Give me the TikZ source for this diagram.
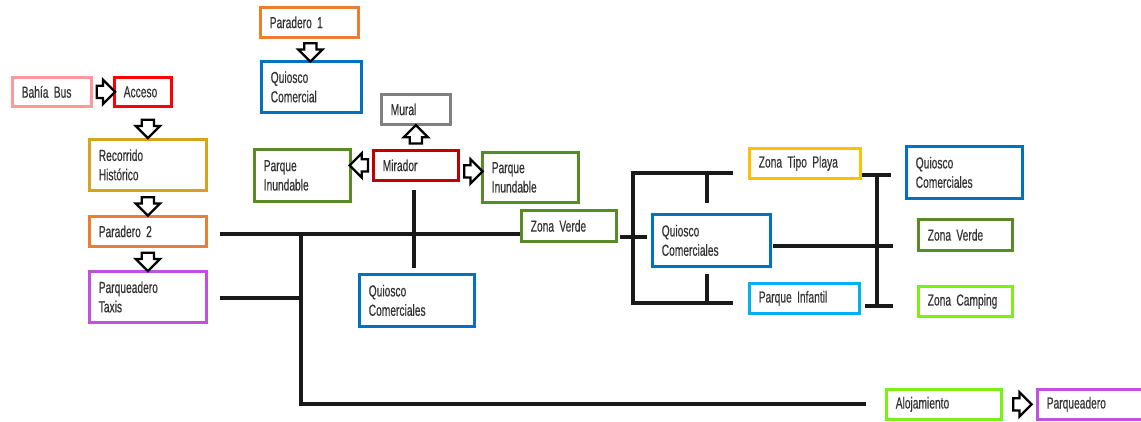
\documentclass[tikz,border=0pt]{standalone}
\usepackage{fontspec}
\setmainfont{Liberation Sans}[FakeStretch=0.64,WordSpace=0.7,FakeBold=0.4]
\usetikzlibrary{shapes.arrows,calc}
\definecolor{corange}{RGB}{237,125,49}
\definecolor{cblue}{RGB}{0,112,192}
\definecolor{cpink}{RGB}{255,153,153}
\definecolor{cred}{RGB}{255,0,0}
\definecolor{cgold}{RGB}{214,163,30}
\definecolor{cpurple}{RGB}{192,80,224}
\definecolor{cgreen}{RGB}{88,138,40}
\definecolor{cgray}{RGB}{128,128,128}
\definecolor{cdred}{RGB}{192,0,0}
\definecolor{cyellow}{RGB}{255,192,0}
\definecolor{clblue}{RGB}{0,176,240}
\definecolor{clime}{RGB}{124,240,20}
\newcommand\bx[7]{%
  \pgfmathsetmacro\bxw{(#5-#3)*0.75}%
  \pgfmathsetmacro\bxh{(#6-#4)*0.75}%
  \pgfmathsetmacro\bxt{(#5-#3)*0.75-14}%
  \node[box, draw=#2, minimum width=\bxw pt, minimum height=\bxh pt, text width=\bxt pt, anchor=north west] (#1) at (#3,#4) {#7};}
\begin{document}
\begin{tikzpicture}[x=0.75pt,y=-0.75pt,
  box/.style={rectangle, line width=2.1pt, fill=white, inner xsep=6pt, inner ysep=2pt, align=left, text=black!80, font=\fontsize{12pt}{14.5pt}\selectfont},
  conn/.style={line width=2.4pt, black!90},
  blk/.style={single arrow, draw=black, fill=white, line width=1.7pt, minimum height=13.5pt, minimum width=16.5pt, single arrow head extend=4.5pt, inner sep=3.75pt}]
\useasboundingbox (0,0) rectangle (1141,421);

\bx{par1}{corange}{259}{6}{357}{36}{Paradero 1}
\bx{qc1}{cblue}{260}{60}{360}{111}{Quiosco\\Comercial}
\bx{bahia}{cpink}{11}{76}{90}{105}{Bahía Bus}
\bx{acceso}{cred}{113}{76}{170}{105}{Acceso}
\bx{rec}{cgold}{88}{138}{205}{189}{Recorrido\\Histórico}
\bx{par2}{corange}{88}{215}{205}{245}{Paradero 2}
\bx{taxis}{cpurple}{88}{270}{205}{321}{Parqueadero\\Taxis}
\bx{pil}{cgreen}{253}{148}{349}{200}{Parque\\Inundable}
\bx{mural}{cgray}{380}{93}{449}{123}{Mural}
\bx{mirador}{cdred}{372}{149}{457}{179}{Mirador}
\bx{pir}{cgreen}{481}{151}{577}{201}{Parque\\Inundable}
\bx{zv1}{cgreen}{520}{209}{615}{240}{Zona Verde}
\bx{qcb}{cblue}{358}{273}{473}{325}{Quiosco\\Comerciales}
\bx{qcc}{cblue}{651}{213}{769}{265}{Quiosco\\Comerciales}
\bx{playa}{cyellow}{748}{147}{859}{177}{Zona Tipo Playa}
\bx{infantil}{clblue}{748}{282}{858}{312}{Parque Infantil}
\bx{qcr}{cblue}{905}{145}{1021}{197}{Quiosco\\Comerciales}
\bx{zv2}{cgreen}{917}{218}{1011}{249}{Zona Verde}
\bx{camping}{clime}{917}{285}{1011}{315}{Zona Camping}
\bx{aloj}{clime}{885}{388}{1000}{418}{Alojamiento}
\bx{parq}{cpurple}{1036}{388}{1144}{418}{Parqueadero}

% block arrows
\node[blk, shape border rotate=270] (ar1) at ($(par1.south)!0.5!(qc1.north)$) {};
\node[blk] (ar2) at ($(bahia.east)!0.5!(acceso.west)$) {};
\node[blk, shape border rotate=270] (ar3) at ($(acceso.south -| rec.north)!0.6!(rec.north)$) {};
\node[blk, shape border rotate=270] (ar4) at ($(rec.south)!0.5!(par2.north)$) {};
\node[blk, shape border rotate=270] (ar5) at ($(par2.south)!0.5!(taxis.north)$) {};
\node[blk, shape border rotate=90] (ar6) at ($(mirador.north)!0.5!(mural.south)$) {};
\node[blk, shape border rotate=180] (ar7) at ($(mirador.west)!0.5!(pil.east |- mirador.west)$) {};
\node[blk] (ar8) at ($(mirador.east)!0.5!(pir.west)$) {};
\node[blk] (ar9) at ($(aloj.east)!0.5!(parq.west)$) {};

% connector lines
\coordinate (j1) at (220,234);
\coordinate (j2) at (301,234);
\coordinate (j3) at (220,298);
\coordinate (j4) at (301,298);
\coordinate (j5) at (301,404);
\coordinate (j6) at (866,404);
\draw[conn] (j1) -- (zv1.west |- j1);
\draw[conn] (j3) -- (j4);
\draw[conn, line join=miter] (j2) -- (j5) -- (j6);
\coordinate (m1) at (414,190);
\coordinate (m2) at (414,268);
\draw[conn] (m1) -- (m2);
\coordinate (z1) at (620,237);
\coordinate (z2) at (647,237);
\draw[conn] (z1) -- (z2);
\coordinate (b1) at (733,173);
\coordinate (b2) at (633,173);
\coordinate (b3) at (633,303);
\coordinate (b4) at (733,303);
\draw[conn, line join=miter] (b1) -- (b2) -- (b3) -- (b4);
\coordinate (t1) at (707,173);
\coordinate (t2) at (707,203);
\coordinate (t3) at (707,274);
\coordinate (t4) at (707,303);
\draw[conn] (t1) -- (t2);
\draw[conn] (t3) -- (t4);
\coordinate (q1) at (773,246);
\coordinate (q2) at (893,246);
\draw[conn] (q1) -- (q2);
\coordinate (r1) at (862,175);
\coordinate (r2) at (891,175);
\coordinate (r3) at (877,175);
\coordinate (r4) at (877,306);
\coordinate (r5) at (865,306);
\coordinate (r6) at (893,306);
\draw[conn] (r1) -- (r2);
\draw[conn] (r3) -- (r4);
\draw[conn] (r5) -- (r6);
\end{tikzpicture}
\end{document}
